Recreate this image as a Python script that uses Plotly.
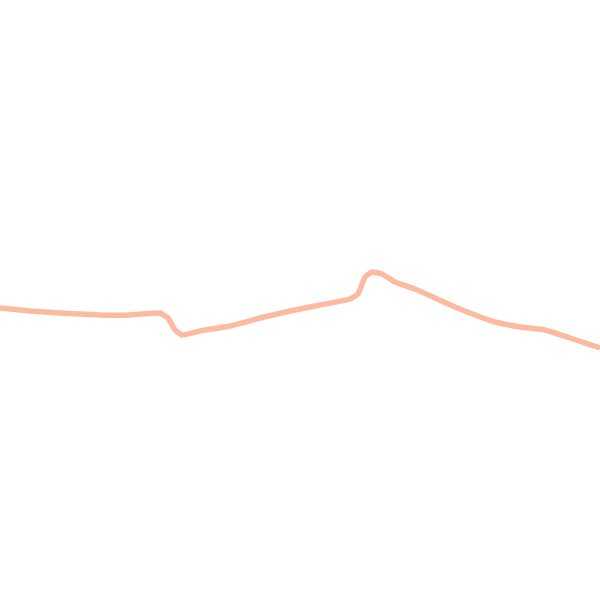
import plotly.graph_objects as go

# position along the strip and level of the series
steps = [0, 30, 60, 100, 130, 160, 168, 175, 182, 200, 230, 260, 290, 320,
         350, 358, 365, 372, 382, 395, 415, 435, 455, 475, 495, 520, 545,
         570, 600]
level = [292, 289, 287, 285, 285, 287, 282, 270, 265, 269, 274, 282, 289,
         295, 301, 306, 323, 328, 326, 318, 311, 302, 293, 285, 278, 273,
         270, 262, 252]

fig = go.Figure(go.Scatter(
    x=steps,
    y=level,
    mode='lines',
    line=dict(color='#fcbba1', width=5.5, shape='spline', smoothing=0.3),
    hoverinfo='skip'))

fig.update_layout(
    width=600,
    height=600,
    margin=dict(l=0, r=0, t=0, b=0),
    paper_bgcolor='white',
    plot_bgcolor='white',
    showlegend=False,
    xaxis=dict(range=[0, 600], visible=False),
    yaxis=dict(range=[0, 600], visible=False))

# drop the default page margin so the chart fills the window edge to edge
fig.write_html('out.html', config={'displayModeBar': False},
               post_script="document.body.style.margin = '0';")
